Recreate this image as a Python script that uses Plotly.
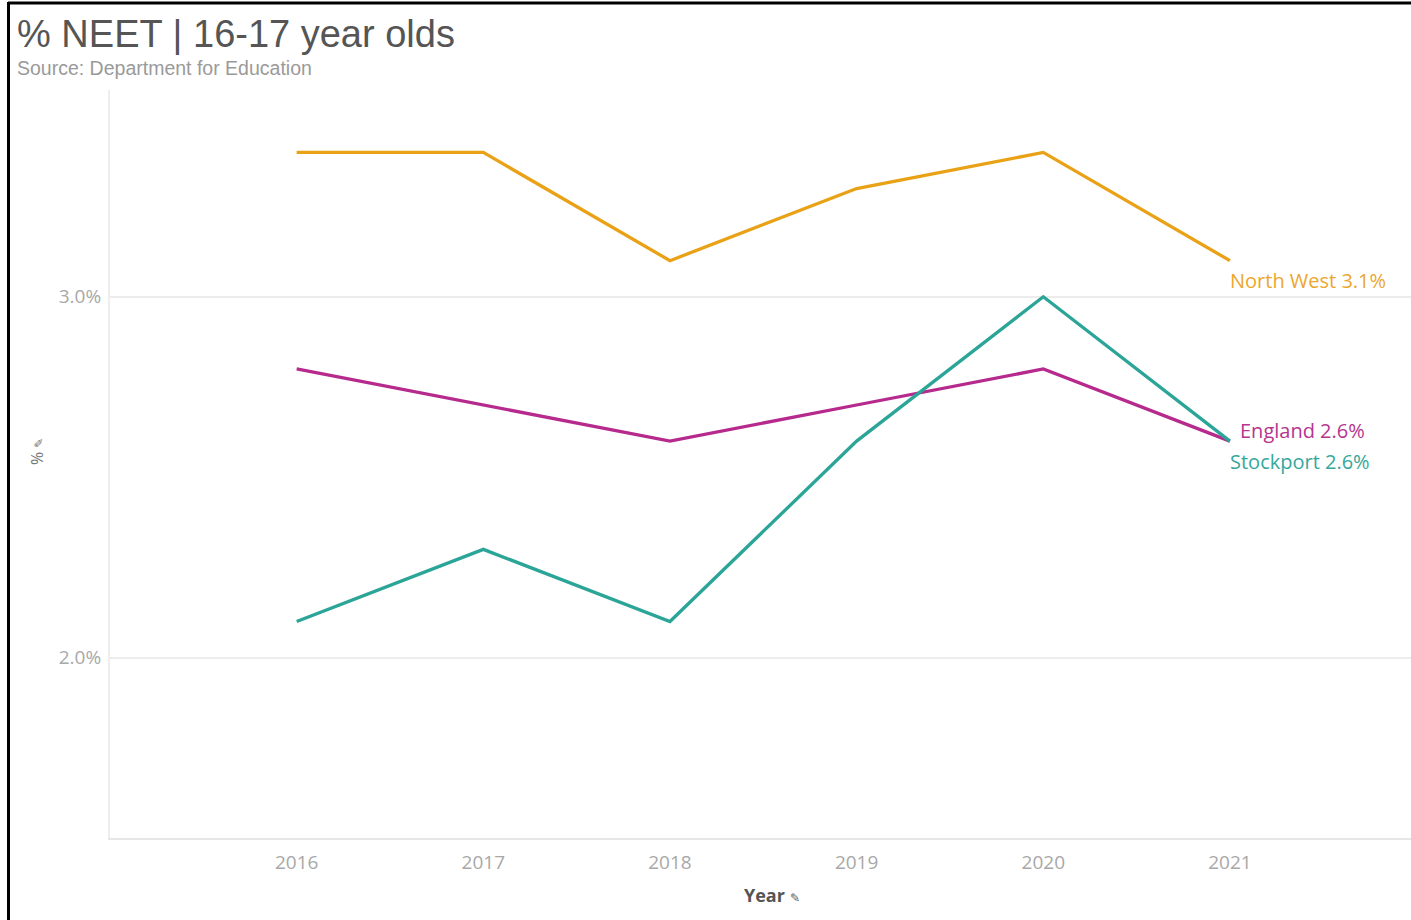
import plotly.graph_objects as go

years = [2016, 2017, 2018, 2019, 2020, 2021]
north_west = [3.4, 3.4, 3.1, 3.3, 3.4, 3.1]
england = [2.8, 2.7, 2.6, 2.7, 2.8, 2.6]
stockport = [2.1, 2.3, 2.1, 2.6, 3.0, 2.6]

series_names = ["North West", "England", "Stockport"]
series_values = [north_west, england, stockport]
line_colors = ["#E9A116", "#B52A8C", "#2BA597"]
label_colors = ["#EBA72E", "#B5368F", "#35A89B"]

W, H = 1411, 920
L, R, T, B = 110, 0, 90, 82
pw, ph = W - L - R, H - T - B


def px(x):
    return (x - L) / pw


def py(y):
    return (H - B - y) / ph


fig = go.Figure()
for name, vals, col in zip(series_names, series_values, line_colors):
    fig.add_trace(go.Scatter(x=years, y=vals, mode="lines", name=name,
                             line=dict(color=col, width=3.3), showlegend=False))

# end labels
label_offsets = {"North West": (0, -20), "England": (10, 11), "Stockport": (0, -20)}
for name, vals, col in zip(series_names, series_values, label_colors):
    xs, ys = label_offsets[name]
    fig.add_annotation(x=years[-1], y=vals[-1], xref="x", yref="y",
                       text=f"{name} {vals[-1]:.1f}%", showarrow=False,
                       xanchor="left", yanchor="middle", xshift=xs - 2, yshift=ys,
                       font=dict(family="Open Sans", size=20, color=col))

# title & subtitle
fig.add_annotation(x=px(15), y=py(34), xref="paper", yref="paper",
                   text="% NEET | 16-17 year olds", showarrow=False,
                   xanchor="left", yanchor="middle",
                   font=dict(family="Liberation Sans", size=38, color="#555555"))
fig.add_annotation(x=px(15), y=py(68), xref="paper", yref="paper",
                   text="Source: Department for Education", showarrow=False,
                   xanchor="left", yanchor="middle",
                   font=dict(family="Liberation Sans", size=19.5, color="#9a9a9a"))

# axis titles
fig.add_annotation(x=px(37), y=py(452), xref="paper", yref="paper",
                   text="% <span style='font-size:12px'>✎</span>", showarrow=False,
                   textangle=-90, xanchor="center", yanchor="middle",
                   font=dict(family="Open Sans", size=16, color="#777777"))
fig.add_annotation(x=px(772), y=py(895), xref="paper", yref="paper",
                   text="<b>Year</b> <span style='font-size:12px'>✎</span>", showarrow=False,
                   xanchor="center", yanchor="middle",
                   font=dict(family="Open Sans", size=18, color="#555555"))

# frame border (top and left)
fig.add_shape(type="line", xref="paper", yref="paper",
              x0=px(8), x1=px(W + 5), y0=py(3), y1=py(3),
              line=dict(color="#000000", width=3))
fig.add_shape(type="line", xref="paper", yref="paper",
              x0=px(8.5), x1=px(8.5), y0=py(2), y1=py(H + 5),
              line=dict(color="#000000", width=3))

fig.update_layout(
    width=W, height=H,
    margin=dict(l=L, r=R, t=T, b=B),
    paper_bgcolor="white", plot_bgcolor="white",
    xaxis=dict(range=[2015.0, 2021.97], tickvals=years, ticktext=[str(y) for y in years],
               showgrid=False, zeroline=False, showline=True, linecolor="#e6e6e6",
               linewidth=2, ticks="", ticklen=0, ticklabelstandoff=6,
               tickfont=dict(family="Open Sans", size=19, color="#a8a8a8")),
    yaxis=dict(range=[1.5, 3.573], tickvals=[2.0, 3.0], ticktext=["2.0%", "3.0%"],
               showgrid=True, gridcolor="#ececec", gridwidth=2, zeroline=False,
               showline=True, linecolor="#eeeeee", linewidth=2, ticks="",
               ticklabelstandoff=3,
               tickfont=dict(family="Open Sans", size=19, color="#a8a8a8")),
    font=dict(family="Open Sans"),
)

fig.write_html("out.html", config={"displayModeBar": False},
               post_script="document.body.style.margin='0';document.body.style.overflow='hidden';")
